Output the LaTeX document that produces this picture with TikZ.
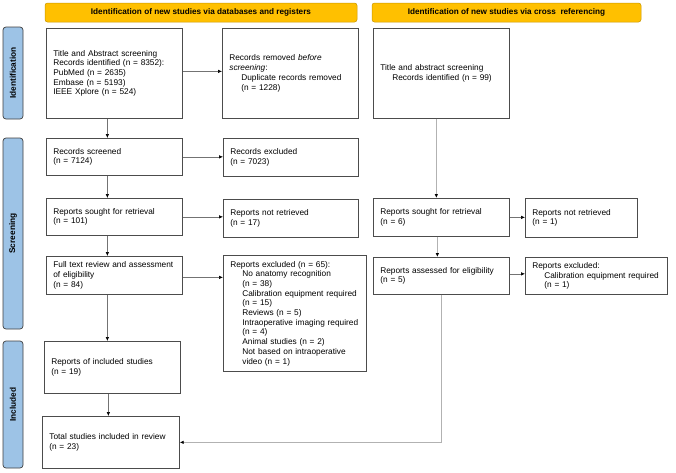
\documentclass[tikz,border=0pt]{standalone}
\usepackage{fontspec}
\setmainfont{Liberation Sans}
\usetikzlibrary{arrows.meta}
\definecolor{hdrgold}{HTML}{FFC000}
\definecolor{hdredge}{HTML}{C99700}
\definecolor{sideblue}{HTML}{9DC3E6}
\def\indt{\hspace*{12pt}}
\tikzset{
  box/.style={draw=black!70, line width=0.7pt, fill=white, anchor=north west,
    inner xsep=7pt, inner ysep=2pt, align=left,
    font=\fontsize{8.3}{9.7}\selectfont},
  hdr/.style={draw=hdredge, fill=hdrgold, rounded corners=2.5pt, line width=0.5pt,
    minimum height=19pt, font=\fontsize{8.2}{9}\selectfont\bfseries},
  side/.style={draw=black!75, fill=sideblue, rounded corners=3pt, line width=0.7pt,
    rotate=90, minimum height=20pt, font=\fontsize{8.3}{9}\selectfont\bfseries},
  flow/.style={draw=black!55, line width=0.6pt, -{Latex[color=black, length=4pt, width=3.5pt]}},
  flowlight/.style={draw=black!30, line width=0.8pt, -{Latex[color=black, length=4pt, width=3.5pt]}}
}

\begin{document}
\begin{tikzpicture}[x=1pt, y=-1pt]
			\useasboundingbox (0,0) rectangle (676,472);
			
			%%%%% HEADERS %%%%%
			\node[hdr, minimum width=312pt] (hdrdb) at (201, 12.5) {Identification of new studies via databases and registers};
			\node[hdr, minimum width=269pt] (hdrcr) at (506.5, 12.5) {Identification of new studies via cross\ \ referencing};
			
			\node[side, minimum width=92pt] (sidid) at (13, 73) {Identification};
			\node[side, minimum width=191pt] (sidscr) at (13, 233.5) {Screening};
			\node[side, minimum width=127pt] (sidinc) at (13, 404.5) {Included};
			
			%%%%% DATABASES %%%%%
			\node[box, text width=122pt, minimum height=90pt] (ident) at (46, 28)
				{Title and Abstract screening\\ Records identified (n = 8352):\\ PubMed (n = 2635)\\ Embase (n = 5193)\\ IEEE Xplore (n = 524)};
			\node[box, text width=122pt, minimum height=90pt] (removed) at (222, 28)
				{Records removed \textit{before}\\ \textit{screening}:\\ \indt Duplicate records removed\\ \indt (n = 1228)};
			
			\node[box, text width=122pt, minimum height=37pt] (screened) at (46, 138) {Records screened\\ (n = 7124)};
			\node[box, text width=121pt, minimum height=38pt] (excluded) at (223, 138) {Records excluded\\ (n = 7023)};
			
			\node[box, text width=122pt, minimum height=37pt] (sought) at (46, 198) {Reports sought for retrieval\\ (n = 101)};
			\node[box, text width=121pt, minimum height=38pt] (notret) at (223, 199) {Reports not retrieved\\ (n = 17)};
			
			\node[box, text width=122pt, minimum height=38pt] (fulltext) at (46, 256)
				{Full text review and assessment\\ of eligibility\\ (n = 84)};
			\node[box, text width=129pt, minimum height=116pt] (rexcl) at (223, 255)
				{Reports excluded (n = 65):\\
				\indt No anatomy recognition\\ \indt (n = 38)\\
				\indt Calibration equipment required\\ \indt (n = 15)\\
				\indt Reviews (n = 5)\\
				\indt Intraoperative imaging required\\ \indt (n = 4)\\
				\indt Animal studies (n = 2)\\
				\indt Not based on intraoperative\\ \indt video (n = 1)};
			
			\node[box, text width=122pt, minimum height=52pt] (incl) at (44, 341) {Reports of included studies\\ (n = 19)};
			\node[box, text width=123pt, minimum height=52pt] (total) at (42, 416) {Total studies included in review\\ (n = 23)};
			
			%%%%% CROSS REFERENCING %%%%%
			\node[box, text width=122pt, minimum height=90pt] (crossid) at (373, 28)
				{Title and abstract screening\\ \indt Records identified (n = 99)};
			\node[box, text width=122pt, minimum height=38pt] (csought) at (373, 198) {Reports sought for retrieval\\ (n = 6)};
			\node[box, text width=98pt, minimum height=39pt] (cnotret) at (525, 198) {Reports not retrieved\\ (n = 1)};
			\node[box, text width=122pt, minimum height=37pt] (cassess) at (373, 257) {Reports assessed for eligibility\\ (n = 5)};
			\node[box, text width=128pt, minimum height=37pt] (cexcl) at (525, 257)
				{Reports excluded:\\ \indt Calibration equipment required\\ \indt (n = 1)};
			
			%%%%% CONNECTORS %%%%%
			\draw[flow] ([xshift=-7pt]ident.south) -- ([xshift=-7pt]screened.north);
			\draw[flow] ([xshift=-7pt]screened.south) -- ([xshift=-7pt]sought.north);
			\draw[flow] ([xshift=-7pt]sought.south) -- ([xshift=-7pt]fulltext.south |- fulltext.north);
			\draw[flow] ([xshift=-7pt]fulltext.south) -- ([xshift=-7pt]fulltext.south |- incl.north);
			\draw[flow] ([xshift=-4pt]incl.south) -- ([xshift=-4pt]incl.south |- total.north);
			
			\draw[flow] ([yshift=2pt]ident.east) -- ([yshift=2pt]removed.west);
			\draw[flow] (screened.east) -- (screened.east -| excluded.west);
			\draw[flow] (sought.east) -- (sought.east -| notret.west);
			\draw[flow] ([yshift=-2pt]fulltext.east) -- ([yshift=-2pt]fulltext.east -| rexcl.west);
			
			\draw[flowlight] ([xshift=-5pt]crossid.south) -- ([xshift=-5pt]csought.north);
			\draw[flowlight] ([xshift=-4pt]csought.south) -- ([xshift=-4pt]cassess.north);
			\draw[flow] (csought.east) -- (csought.east -| cnotret.west);
			\draw[flow] ([yshift=2pt]cassess.east) -- ([yshift=2pt]cassess.east -| cexcl.west);
			\draw[flowlight] (cassess.south) |- (total.east);
			
\end{tikzpicture}
\end{document}
